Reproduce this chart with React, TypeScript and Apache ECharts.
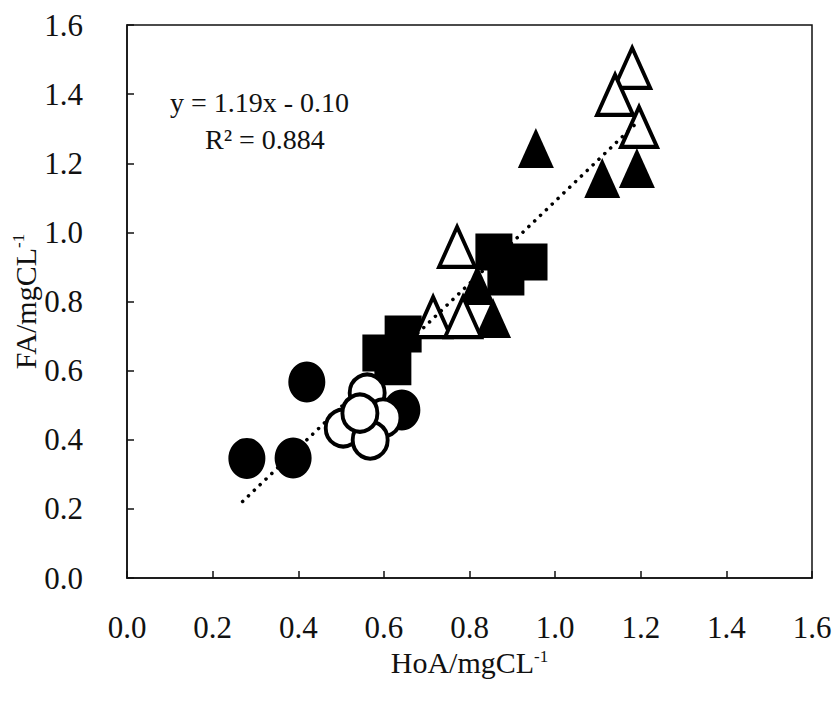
import React, { useEffect, useRef } from "react";
import * as echarts from "echarts";

const xTicks = [0, 0.2, 0.4, 0.6, 0.8, 1.0, 1.2, 1.4, 1.6];
const yTicks = [0, 0.2, 0.4, 0.6, 0.8, 1.0, 1.2, 1.4, 1.6];

const filledCircles: [number, number][] = [
  [0.28, 0.346],
  [0.388, 0.347],
  [0.42, 0.567],
  [0.642, 0.486],
];
const openCircles: [number, number][] = [
  [0.561, 0.535],
  [0.598, 0.463],
  [0.505, 0.434],
  [0.568, 0.399],
  [0.544, 0.477],
];
const filledSquares: [number, number][] = [
  [0.621, 0.611],
  [0.593, 0.651],
  [0.645, 0.706],
  [0.885, 0.871],
  [0.857, 0.943],
  [0.939, 0.914],
];
const filledTriangles: [number, number][] = [
  [0.818, 0.848],
  [0.855, 0.752],
  [0.955, 1.244],
  [1.11, 1.157],
  [1.191, 1.186],
];
const openTriangles: [number, number][] = [
  [0.771, 0.958],
  [0.715, 0.755],
  [0.785, 0.755],
  [1.196, 1.305],
  [1.18, 1.476],
  [1.14, 1.398],
];
const slope = 1.19;
const intercept = -0.1;
const trendX = [0.27, 1.19];
const equationText = "y = 1.19x - 0.10";
const r2Text = "R² = 0.884";

const FONT = "'Liberation Serif', 'Times New Roman', serif";
const INK = "#111";

export default function App() {
  const ref = useRef<HTMLDivElement>(null);
  useEffect(() => {
    if (!ref.current) return;
    const chart = echarts.init(ref.current, null, { renderer: "svg" });
    const trend = trendX.map((x) => [x, slope * x + intercept]);
    const axisCommon = {
      type: "value" as const,
      min: xTicks[0],
      max: xTicks[xTicks.length - 1],
      interval: 0.2,
      axisLine: { show: true, lineStyle: { color: INK, width: 1.5 } },
      axisTick: { show: true, inside: true, length: 7, lineStyle: { color: INK, width: 1.5 } },
      splitLine: { show: false },
      axisLabel: {
        color: INK,
        fontFamily: FONT,
        fontSize: 31,
        formatter: (v: number) => v.toFixed(1),
      },
    };
    const rich = {
      b: { fontFamily: FONT, fontSize: 30, color: INK, lineHeight: 30 },
      s: { fontFamily: FONT, fontSize: 17, color: INK, lineHeight: 30, verticalAlign: "top", padding: [0, 0, 10, 0] },
    };
    chart.setOption({
      animation: false,
      backgroundColor: "#fff",
      grid: {
        left: 127,
        right: 20,
        top: 25,
        bottom: 124,
        containLabel: false,
        outerBoundsMode: "none",
        show: true,
        borderColor: INK,
        borderWidth: 1.5,
        backgroundColor: "transparent",
      },
      xAxis: {
        ...axisCommon,
        axisLabel: { ...axisCommon.axisLabel, margin: 34 },
        name: "{b|HoA/mgCL}{s|-1}",
        nameLocation: "middle",
        nameGap: 61,
        nameTextStyle: { rich },
      },
      yAxis: {
        ...axisCommon,
        min: yTicks[0],
        max: yTicks[yTicks.length - 1],
        axisLabel: { ...axisCommon.axisLabel, margin: 44 },
        name: "{b|FA/mgCL}{s|-1}",
        nameLocation: "middle",
        nameGap: 87,
        nameRotate: 90,
        nameMoveOverlap: false,
        nameTextStyle: { rich },
      },
      graphic: [
        {
          type: "text",
          left: 170,
          top: 88,
          style: { text: equationText, fontFamily: FONT, fontSize: 28, fill: INK },
        },
        {
          type: "text",
          left: 205,
          top: 125,
          style: { text: r2Text, fontFamily: FONT, fontSize: 28, fill: INK },
        },
      ],
      series: [
        {
          type: "scatter",
          data: filledCircles,
          symbol: "circle",
          symbolSize: [37, 41],
          itemStyle: { color: "#000", opacity: 1 },
          z: 2,
        },
        {
          type: "scatter",
          data: filledSquares,
          symbol: "rect",
          symbolSize: [37, 37],
          itemStyle: { color: "#000", opacity: 1 },
          z: 3,
        },
        {
          type: "scatter",
          data: filledTriangles,
          symbol: "triangle",
          symbolSize: [36, 40],
          itemStyle: { color: "#000", opacity: 1 },
          z: 4,
        },
        {
          type: "scatter",
          data: openTriangles,
          symbol: "triangle",
          symbolSize: [36, 40],
          itemStyle: { color: "#fff", borderColor: "#000", borderWidth: 4, opacity: 1 },
          z: 5,
        },
        {
          type: "line",
          data: trend,
          symbol: "none",
          lineStyle: { color: "#000", width: 3.5, type: [0.1, 8], cap: "round" },
          z: 6,
        },
        {
          type: "scatter",
          data: openCircles,
          symbol: "circle",
          symbolSize: [35, 37],
          itemStyle: { color: "#fff", borderColor: "#000", borderWidth: 4, opacity: 1 },
          z: 7,
        },
      ],
    });
    return () => chart.dispose();
  }, []);
  return (
    <div
      ref={ref}
      style={{ position: "fixed", left: 0, top: 0, width: 832, height: 702, background: "#fff" }}
    />
  );
}
